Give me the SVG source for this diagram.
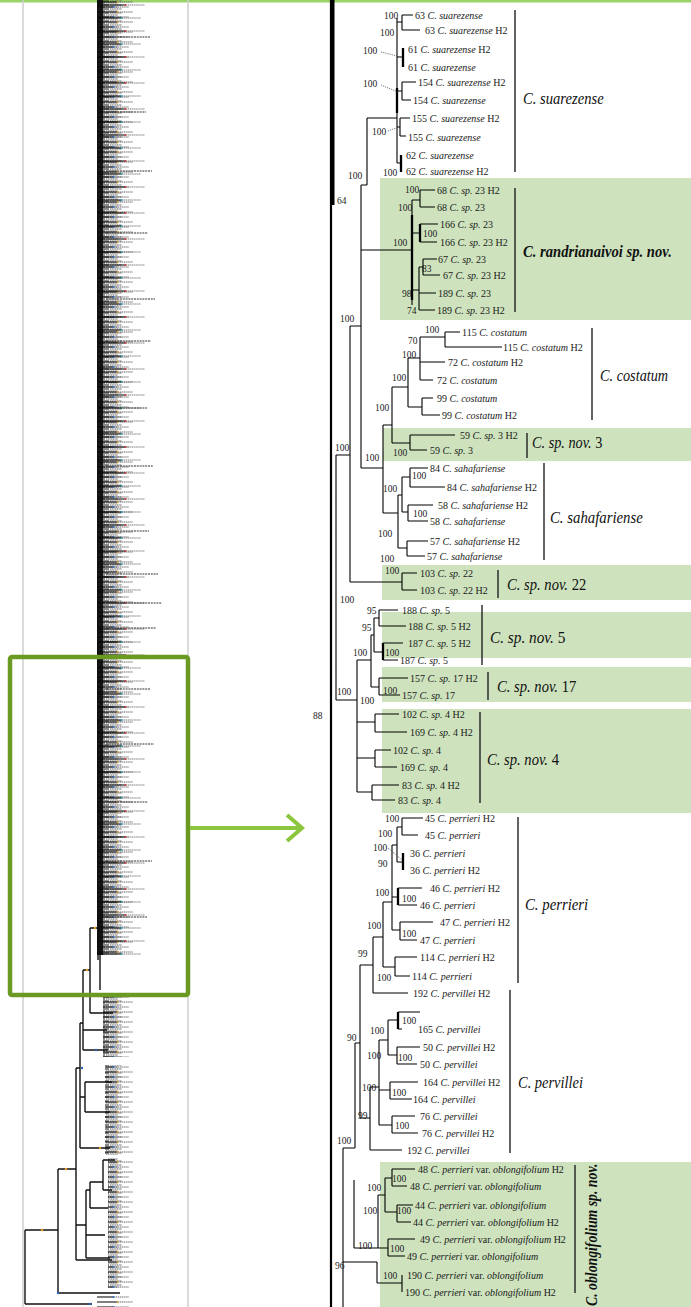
<svg xmlns="http://www.w3.org/2000/svg" width="691" height="1307" viewBox="0 0 691 1307">
<style>
.t{font-family:"Liberation Serif",serif;font-size:10px;fill:#1a1a1a}
.i{font-style:italic}
.bs{font-family:"Liberation Serif",serif;font-size:9.5px;fill:#1a1a1a}
.cl{font-family:"Liberation Serif",serif;font-size:17px;font-style:italic;fill:#111}
.bold{font-weight:bold}
.up{font-style:normal}
.tree{fill:none;stroke:#000;stroke-width:1.1}
.thick{fill:none;stroke:#000;stroke-width:2.3}
.lead{fill:none;stroke:#555;stroke-width:.8;stroke-dasharray:1.2 1}
.br{stroke:#222;stroke-width:1.4}
.box{fill:#cde2bd}
.mini{fill:none;stroke:#111;stroke-width:1.4}
</style>
<defs>
<pattern id="pc" patternUnits="userSpaceOnUse" x="97" y="0" width="200" height="4">
<path d="M0 1H12M0 3H8" stroke="#111" stroke-width="1"/>
<path d="M13 1H25M9 3H21" stroke="#555" stroke-width="1.1" stroke-dasharray="1.2 .5"/>
</pattern>
<pattern id="pd" patternUnits="userSpaceOnUse" x="97" y="0" width="200" height="10">
<path d="M0 2H20M0 7H16" stroke="#000" stroke-width="1.1"/>
<path d="M21 2H36M17 7H32" stroke="#666" stroke-width="1.1" stroke-dasharray="1.3 .6"/>
<circle cx="20.5" cy="2" r=".9" fill="#e39a2b"/>
<circle cx="16.5" cy="7" r=".9" fill="#2a64c8"/>
</pattern>
<pattern id="pe" patternUnits="userSpaceOnUse" x="97" y="0" width="200" height="26">
<path d="M0 5H28M0 18H24" stroke="#000" stroke-width="1.1"/>
<path d="M29 5H48M25 18H44" stroke="#777" stroke-width="1.1" stroke-dasharray="1.3 .6"/>
<circle cx="28.5" cy="5" r=".9" fill="#d33"/>
<circle cx="24.5" cy="18" r=".9" fill="#19a6b8"/>
</pattern>
</defs>
<rect width="691" height="1307" fill="#fff"/>
<rect x="0" y="0" width="691" height="2.5" fill="#9bd36a"/>

<!-- overview tree -->
<g id="overview">
<path d="M23 0V1307M188 0V1307" stroke="#cfcfcf" stroke-width="1.5"/>
<rect x="97" y="0" width="6" height="955" fill="#222"/>
<rect x="97" y="0" width="40" height="955" fill="url(#pc)"/>
<rect x="97" y="0" width="50" height="955" fill="url(#pd)"/>
<rect x="97" y="0" width="62" height="955" fill="url(#pe)"/>
<path d="M106 37H150M106 112H146M106 171H152M106 233H148M106 299H155M106 341H151M106 408H147M106 466H153M106 531H149M106 574H158M106 603H162M106 628H156M106 689H150M106 744H154M106 802H148M106 861H152M106 917H147" stroke="#333" stroke-width="1" stroke-dasharray="2 .8"/>
<rect x="103" y="995" width="40" height="62" fill="url(#pc)"/>
<rect x="103" y="995" width="50" height="62" fill="url(#pd)"/>
<rect x="105" y="1065" width="38" height="90" fill="url(#pc)"/>
<rect x="105" y="1065" width="46" height="90" fill="url(#pd)"/>
<rect x="108" y="1158" width="42" height="130" fill="url(#pc)"/>
<rect x="108" y="1158" width="54" height="130" fill="url(#pd)"/>
<rect x="92" y="1294" width="50" height="13" fill="url(#pd)"/>
<path class="mini" d="M98 0V960M101 0V950M25 1230V1304M25 1230H58M25 1304H92M58 1169V1293M58 1169H76M58 1293H120M76 1068V1260M76 1068H80M76 1260H112M80 1023V1148M80 1023H83M80 1148H110M83 970V1050M83 970H90M83 1050H108M83 1030H107M90 928V1013M90 928H100M90 1013H113M100 900V990M80 1097H85M85 1082V1112M85 1082H112M85 1112H110M76 1225H86M86 1190V1258M86 1190H90M90 1182V1208M90 1182H103M103 1160V1190M103 1160H115M103 1190H112M90 1208H108M86 1258H110M86 1235H105"/>
<g fill="#e39a2b"><circle cx="42" cy="1230" r="1.3"/><circle cx="66" cy="1169" r="1.3"/><circle cx="95" cy="928" r="1.2"/><circle cx="87" cy="970" r="1.2"/><circle cx="100" cy="1148" r="1.2"/></g>
<g fill="#2a64c8"><circle cx="58" cy="1293" r="1.2"/><circle cx="90" cy="1304" r="1.2"/><circle cx="82" cy="1068" r="1.2"/><circle cx="96" cy="1050" r="1.2"/></g>
<rect x="10" y="657" width="178" height="338" rx="2" fill="none" stroke="#6b9a22" stroke-width="4.5"/>
<path d="M190 828H300" stroke="#8cc63e" stroke-width="4"/>
<path d="M287 815L302 828L287 841" fill="none" stroke="#8cc63e" stroke-width="4"/>
</g>

<!-- highlighted clade backgrounds -->
<g id="highlights">
<rect class="box" x="380" y="178" width="311" height="142"/>
<rect class="box" x="383" y="428" width="308" height="33"/>
<rect class="box" x="382" y="565" width="309" height="35"/>
<rect class="box" x="382" y="612" width="309" height="46"/>
<rect class="box" x="382" y="667" width="309" height="35"/>
<rect class="box" x="382" y="709" width="309" height="104"/>
<rect class="box" x="380" y="1162" width="311" height="145"/>
</g>

<!-- detailed tree connectors -->
<g id="connectors">
<rect x="330" y="0" width="4.5" height="205" fill="#000"/>
<path d="M331 0V1307" stroke="#000" stroke-width="2.2"/>
<path class="tree" d="M397 18V163M397 22H402M402 15V30M402 15H413M402 30H420M397 57H403M397 91H402M402 82V100M402 82H416M402 100H411M397 127H400M400 118V136M400 118H410M400 136H406M397 163H401M367 118H397M367 118V185M361 185H367
M361 185V468M361 250H412M361 468H383M350 326H361
M412 200V305M412 200H420M420 190V207M420 190H435M420 207H435M412 233H420M420 224H438M420 242H437M412 290H419M419 267V310M419 267H423M423 259V275M423 259H437M423 275H440M419 293H436M419 310H435
M383 425V513M383 425H392M392 387V443M392 387H408M392 443H410M408 358V407M408 358H420M408 407H422M420 337V380M420 337H445M445 332V347M445 332H460M445 347H502M420 362H445M420 380H433M422 398V415M422 398H433M422 415H440M410 435V450M410 435H455M410 450H427
M383 513H398M398 495V548M398 495H402M402 477V512M402 477H410M410 468V487M410 468H428M410 487H445M402 512H408M408 505V521M408 505H433M408 521H428M398 548H407M407 541V556M407 541H428M407 556H425
M350 326V582M350 582H402M402 573V590M402 573H417M402 590H417
M336 455V700M336 455H350M336 700H357M357 660V792M357 660H371M357 722H375M357 758H375M357 792H372M371 635V687M371 635H374M371 687H379M374 618V652M374 618H379M374 652H383M379 610V626M379 610H398M379 626H406M383 643H403M383 660H398M379 678V695M379 678H408M379 695H400M375 714V732M375 714H399M375 732H407M375 750V767M375 750H391M375 767H397M372 785V800M372 785H399M372 800H395
M402 818V835M402 818H423M402 835H418M397 827V862M397 827H402M397 862H403M392 845V930M392 845H397M392 897H398M392 930H400M398 888H422M398 905H417M400 922V940M400 922H433M400 940H417M383 902V967M383 902H392M383 967H395M395 957V976M395 957H417M395 976H410M373 937V993M373 937H383M373 993H408
M360 965V1118M360 965H373M360 1118H370M355 1043V1148M355 1043H360M343 1148H355M343 1148V1307
M370 1087V1150M370 1150H402M370 1087H379M379 1040V1125M379 1040H388M379 1090H390M379 1125H392M388 1020V1055M388 1020H398M388 1055H397M398 1012H420M398 1029H402M397 1047V1064M397 1047H420M397 1064H417M390 1082V1099M390 1082H418M390 1099H412M392 1116V1133M392 1116H415M392 1133H418
M392 1169V1186M392 1169H415M392 1186H407M397 1205V1222M397 1205H413M397 1222H411M385 1178V1212M385 1178H392M385 1212H397M388 1239V1256M388 1239H415M388 1256H405M378 1195V1248M378 1195H385M378 1248H388M354 1180V1248M354 1248H378M402 1275V1292M377 1262V1283M377 1283H402M343 1262H377"/>
<path class="thick" d="M397 88V113M403 48V67M401 155V172M420 224V242M383 643V660M403 853V870M398 888V905M398 1012V1029M412 215V300"/>
<path class="lead" d="M381 52L401 57M381 85L398 92M388 131L396 128M388 848L402 860"/>
</g>

<!-- bootstrap support values -->
<g id="support" class="bs">
<text x="384" y="19">100</text><text x="380" y="36">100</text><text x="363" y="54">100</text><text x="363" y="87">100</text><text x="372" y="135">100</text><text x="383" y="176">100</text><text x="348" y="179">100</text><text x="337" y="204">64</text>
<text x="405" y="193">100</text><text x="398" y="211">100</text><text x="423" y="237">100</text><text x="393" y="246">100</text><text x="422" y="272">83</text><text x="402" y="297">98</text><text x="407" y="314">74</text>
<text x="340" y="322">100</text><text x="425" y="333">100</text><text x="408" y="344">70</text><text x="402" y="358">100</text><text x="392" y="381">100</text><text x="375" y="411">100</text><text x="393" y="456">100</text><text x="365" y="461">100</text><text x="335" y="451">100</text>
<text x="412" y="479">100</text><text x="383" y="492">100</text><text x="413" y="517">100</text><text x="378" y="537">100</text><text x="380" y="562">100</text>
<text x="385" y="574">100</text><text x="340" y="603">100</text>
<text x="367" y="614">95</text><text x="362" y="631">95</text><text x="353" y="656">100</text><text x="385" y="656">100</text><text x="383" y="694">100</text><text x="337" y="695">100</text><text x="360" y="704">100</text>
<text x="313" y="719">88</text>
<text x="385" y="822">100</text><text x="378" y="837">100</text><text x="373" y="851">100</text><text x="378" y="867">90</text><text x="402" y="902">100</text><text x="375" y="896">100</text><text x="367" y="929">100</text><text x="402" y="937">100</text><text x="358" y="957">99</text><text x="377" y="981">100</text>
<text x="402" y="1024">100</text><text x="370" y="1034">100</text><text x="347" y="1041">90</text><text x="398" y="1061">100</text><text x="367" y="1059">100</text><text x="362" y="1091">100</text><text x="392" y="1096">100</text><text x="358" y="1119">99</text><text x="395" y="1129">100</text><text x="337" y="1144">100</text>
<text x="392" y="1182">100</text><text x="367" y="1191">100</text><text x="397" y="1214">100</text><text x="363" y="1214">100</text><text x="390" y="1252">100</text><text x="358" y="1249">100</text><text x="335" y="1269">96</text><text x="383" y="1279">100</text>
</g>

<g id="clade-suarezense">
<text class="t" x="415" y="18.5">63 <tspan class="i">C. suarezense</tspan></text>
<text class="t" x="425" y="33.5">63 <tspan class="i">C. suarezense</tspan> H2</text>
<text class="t" x="408" y="52.5">61 <tspan class="i">C. suarezense</tspan> H2</text>
<text class="t" x="408" y="70.5">61 <tspan class="i">C. suarezense</tspan></text>
<text class="t" x="418" y="85.5">154 <tspan class="i">C. suarezense</tspan> H2</text>
<text class="t" x="413" y="103.5">154 <tspan class="i">C. suarezense</tspan></text>
<text class="t" x="412" y="121.5">155 <tspan class="i">C. suarezense</tspan> H2</text>
<text class="t" x="408" y="140.5">155 <tspan class="i">C. suarezense</tspan></text>
<text class="t" x="406" y="158.5">62 <tspan class="i">C. suarezense</tspan></text>
<text class="t" x="406" y="174.5">62 <tspan class="i">C. suarezense</tspan> H2</text>
<path class="br" d="M515 10V172"/>
<text class="cl" transform="translate(523 104) scale(0.86 1)">C. suarezense</text>
</g>

<g id="clade-randrianaivoi">
<text class="t" x="437" y="193.5">68 <tspan class="i">C. sp.</tspan> 23 H2</text>
<text class="t" x="437" y="210.5">68 <tspan class="i">C. sp.</tspan> 23</text>
<text class="t" x="440" y="227.5">166 <tspan class="i">C. sp.</tspan> 23</text>
<text class="t" x="440" y="245.5">166 <tspan class="i">C. sp.</tspan> 23 H2</text>
<text class="t" x="438" y="262.5">67 <tspan class="i">C. sp.</tspan> 23</text>
<text class="t" x="443" y="278.5">67 <tspan class="i">C. sp.</tspan> 23 H2</text>
<text class="t" x="438" y="296.5">189 <tspan class="i">C. sp.</tspan> 23</text>
<text class="t" x="437" y="313.5">189 <tspan class="i">C. sp.</tspan> 23 H2</text>
<path class="br" d="M515 188V312"/>
<text class="cl bold" transform="translate(523 257) scale(0.86 1)">C. randrianaivoi sp. nov.</text>
</g>

<g id="clade-costatum">
<text class="t" x="462" y="335.5">115 <tspan class="i">C. costatum</tspan></text>
<text class="t" x="503" y="350.5">115 <tspan class="i">C. costatum</tspan> H2</text>
<text class="t" x="448" y="365.5">72 <tspan class="i">C. costatum</tspan> H2</text>
<text class="t" x="437" y="383.5">72 <tspan class="i">C. costatum</tspan></text>
<text class="t" x="437" y="401.5">99 <tspan class="i">C. costatum</tspan></text>
<text class="t" x="442" y="418.5">99 <tspan class="i">C. costatum</tspan> H2</text>
<path class="br" d="M592 328V420"/>
<text class="cl" transform="translate(600 381) scale(0.84 1)">C. costatum</text>
</g>

<g id="clade-sp3">
<text class="t" x="460" y="438.5">59 <tspan class="i">C. sp.</tspan> 3 H2</text>
<text class="t" x="430" y="453.5">59 <tspan class="i">C. sp.</tspan> 3</text>
<path class="br" d="M527 433V458"/>
<text class="cl" transform="translate(532 448) scale(0.84 1)">C. sp. nov. <tspan class="up">3</tspan></text>
</g>

<g id="clade-sahafariense">
<text class="t" x="430" y="471.5">84 <tspan class="i">C. sahafariense</tspan></text>
<text class="t" x="447" y="490.5">84 <tspan class="i">C. sahafariense</tspan> H2</text>
<text class="t" x="438" y="508.5">58 <tspan class="i">C. sahafariense</tspan> H2</text>
<text class="t" x="430" y="524.5">58 <tspan class="i">C. sahafariense</tspan></text>
<text class="t" x="430" y="544.5">57 <tspan class="i">C. sahafariense</tspan> H2</text>
<text class="t" x="427" y="559.5">57 <tspan class="i">C. sahafariense</tspan></text>
<path class="br" d="M544 463V560"/>
<text class="cl" transform="translate(550 523) scale(0.87 1)">C. sahafariense</text>
</g>

<g id="clade-sp22">
<text class="t" x="420" y="576.5">103 <tspan class="i">C. sp.</tspan> 22</text>
<text class="t" x="420" y="593.5">103 <tspan class="i">C. sp.</tspan> 22 H2</text>
<path class="br" d="M498 570V598"/>
<text class="cl" transform="translate(507 590) scale(0.86 1)">C. sp. nov. <tspan class="up">22</tspan></text>
</g>

<g id="clade-sp5">
<text class="t" x="402" y="613.5">188 <tspan class="i">C. sp.</tspan> 5</text>
<text class="t" x="408" y="629.5">188 <tspan class="i">C. sp.</tspan> 5 H2</text>
<text class="t" x="408" y="646.5">187 <tspan class="i">C. sp.</tspan> 5 H2</text>
<text class="t" x="400" y="663.5">187 <tspan class="i">C. sp.</tspan> 5</text>
<path class="br" d="M482 605V665"/>
<text class="cl" transform="translate(490 643) scale(0.9 1)">C. sp. nov. <tspan class="up">5</tspan></text>
</g>

<g id="clade-sp17">
<text class="t" x="410" y="681.5">157 <tspan class="i">C. sp.</tspan> 17 H2</text>
<text class="t" x="402" y="698.5">157 <tspan class="i">C. sp.</tspan> 17</text>
<path class="br" d="M488 672V700"/>
<text class="cl" transform="translate(497 692) scale(0.86 1)">C. sp. nov. <tspan class="up">17</tspan></text>
</g>

<g id="clade-sp4">
<text class="t" x="402" y="717.5">102 <tspan class="i">C. sp.</tspan> 4 H2</text>
<text class="t" x="410" y="735.5">169 <tspan class="i">C. sp.</tspan> 4 H2</text>
<text class="t" x="393" y="753.5">102 <tspan class="i">C. sp.</tspan> 4</text>
<text class="t" x="400" y="770.5">169 <tspan class="i">C. sp.</tspan> 4</text>
<text class="t" x="402" y="788.5">83 <tspan class="i">C. sp.</tspan> 4 H2</text>
<text class="t" x="398" y="803.5">83 <tspan class="i">C. sp.</tspan> 4</text>
<path class="br" d="M480 712V803"/>
<text class="cl" transform="translate(487 765) scale(0.86 1)">C. sp. nov. <tspan class="up">4</tspan></text>
</g>

<g id="clade-perrieri">
<text class="t" x="425" y="821.5">45 <tspan class="i">C. perrieri</tspan> H2</text>
<text class="t" x="425" y="838.5">45 <tspan class="i">C. perrieri</tspan></text>
<text class="t" x="410" y="856.5">36 <tspan class="i">C. perrieri</tspan></text>
<text class="t" x="410" y="873.5">36 <tspan class="i">C. perrieri</tspan> H2</text>
<text class="t" x="430" y="891.5">46 <tspan class="i">C. perrieri</tspan> H2</text>
<text class="t" x="420" y="908.5">46 <tspan class="i">C. perrieri</tspan></text>
<text class="t" x="440" y="925.5">47 <tspan class="i">C. perrieri</tspan> H2</text>
<text class="t" x="420" y="943.5">47 <tspan class="i">C. perrieri</tspan></text>
<text class="t" x="420" y="960.5">114 <tspan class="i">C. perrieri</tspan> H2</text>
<text class="t" x="412" y="979.5">114 <tspan class="i">C. perrieri</tspan></text>
<path class="br" d="M518 817V983"/>
<text class="cl" transform="translate(525 910) scale(0.87 1)">C. perrieri</text>
</g>

<g id="clade-pervillei">
<text class="t" x="413" y="996.5">192 <tspan class="i">C. pervillei</tspan> H2</text>
<text class="t" x="418" y="1032.5">165 <tspan class="i">C. pervillei</tspan></text>
<text class="t" x="423" y="1050.5">50 <tspan class="i">C. pervillei</tspan> H2</text>
<text class="t" x="420" y="1067.5">50 <tspan class="i">C. pervillei</tspan></text>
<text class="t" x="423" y="1085.5">164 <tspan class="i">C. pervillei</tspan> H2</text>
<text class="t" x="413" y="1102.5">164 <tspan class="i">C. pervillei</tspan></text>
<text class="t" x="420" y="1119.5">76 <tspan class="i">C. pervillei</tspan></text>
<text class="t" x="422" y="1136.5">76 <tspan class="i">C. pervillei</tspan> H2</text>
<text class="t" x="407" y="1153.5">192 <tspan class="i">C. pervillei</tspan></text>
<path class="br" d="M510 990V1153"/>
<text class="cl" transform="translate(518 1088) scale(0.85 1)">C. pervillei</text>
</g>

<g id="clade-oblongifolium">
<text class="t" x="418" y="1172.5">48 <tspan class="i">C. perrieri</tspan> var. <tspan class="i">oblongifolium</tspan> H2</text>
<text class="t" x="410" y="1189.5">48 <tspan class="i">C. perrieri</tspan> var. <tspan class="i">oblongifolium</tspan></text>
<text class="t" x="415" y="1208.5">44 <tspan class="i">C. perrieri</tspan> var. <tspan class="i">oblongifolium</tspan></text>
<text class="t" x="413" y="1225.5">44 <tspan class="i">C. perrieri</tspan> var. <tspan class="i">oblongifolium</tspan> H2</text>
<text class="t" x="420" y="1242.5">49 <tspan class="i">C. perrieri</tspan> var. <tspan class="i">oblongifolium</tspan> H2</text>
<text class="t" x="407" y="1259.5">49 <tspan class="i">C. perrieri</tspan> var. <tspan class="i">oblongifolium</tspan></text>
<text class="t" x="407" y="1278.5">190 <tspan class="i">C. perrieri</tspan> var. <tspan class="i">oblongifolium</tspan></text>
<text class="t" x="405" y="1295.5">190 <tspan class="i">C. perrieri</tspan> var. <tspan class="i">oblongifolium</tspan> H2</text>
<path class="br" d="M575 1165V1293"/>
<text class="cl bold" transform="translate(597 1306) rotate(-90) scale(0.81 1)">C. oblongifolium sp. nov.</text>
</g>
</svg>
